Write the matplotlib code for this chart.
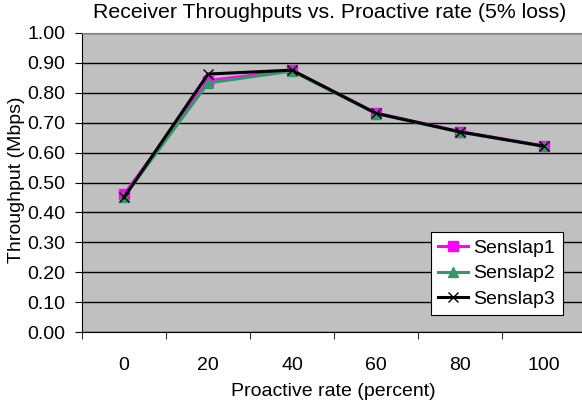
import matplotlib.pyplot as plt
import numpy as np

# Proactive rate categories and receiver throughputs (Mbps)
rates = ["0", "20", "40", "60", "80", "100"]
senslap1 = [0.46, 0.840, 0.874, 0.732, 0.670, 0.622]
senslap2 = [0.452, 0.832, 0.872, 0.730, 0.668, 0.621]
senslap3 = [0.450, 0.862, 0.875, 0.731, 0.669, 0.621]

plt.rcParams["font.family"] = ["Liberation Sans", "DejaVu Sans"]

W, H = 582, 408
fig = plt.figure(figsize=(W / 100, H / 100), dpi=100)
ax = fig.add_axes([82 / W, 75.7 / H, 504 / W, 299.6 / H])
ax.set_facecolor("#C0C0C0")

x = np.arange(len(rates))
ax.plot(x, senslap1, color="#FF00FF", lw=2.2, marker="s", ms=7,
        mec="#FF00FF", label="Senslap1", zorder=3)
ax.plot(x, senslap2, color="#339966", lw=2.2, marker="^", ms=7,
        mec="#339966", label="Senslap2", zorder=4)
ax.plot(x, senslap3, color="black", lw=2.2, marker="x", ms=7, mew=1,
        label="Senslap3", zorder=5)

ax.set_ylim(0, 1.0)
ax.set_yticks(np.arange(0, 1.01, 0.1))
ax.set_yticklabels([f"{v:.2f}" for v in np.arange(0, 1.01, 0.1)])
ax.yaxis.grid(True, color="black", lw=1)
ax.set_axisbelow(True)

ax.set_xlim(-0.5, len(rates) - 0.5)
ax.set_xticks(x)
ax.set_xticklabels(rates)
ax.set_xticks(np.arange(-0.5, len(rates)), minor=True)
ax.tick_params(axis="x", which="major", length=0, pad=18)
ax.tick_params(axis="x", which="minor", length=5, direction="out")
ax.tick_params(axis="y", length=5, direction="out", pad=7)
ax.tick_params(labelsize=14)

for side in ["top", "right"]:
    ax.spines[side].set_color("#808080")
ax.spines["left"].set_color("black")
ax.spines["bottom"].set_color("black")

fig.text(330 / W, 1 - 13 / H,
         "Receiver Throughputs vs. Proactive rate (5% loss)",
         fontsize=15.3, ha="center", va="center")
fig.text(333 / W, 1 - 392 / H, "Proactive rate (percent)",
         fontsize=14, ha="center", va="center")
fig.text(17 / W, 1 - 180 / H, "Throughput (Mbps)",
         fontsize=14, ha="center", va="center", rotation=90)

leg = ax.legend(loc="upper left", bbox_to_anchor=(431 / W, 1 - 232 / H),
                bbox_transform=fig.transFigure,
                fontsize=14, frameon=True, fancybox=False,
                edgecolor="black", framealpha=1, handlelength=1.5,
                borderpad=0.38, labelspacing=0.4, handletextpad=0.3,
                borderaxespad=0)
leg.get_frame().set_linewidth(0.8)

fig.savefig("out.png", dpi=100)
